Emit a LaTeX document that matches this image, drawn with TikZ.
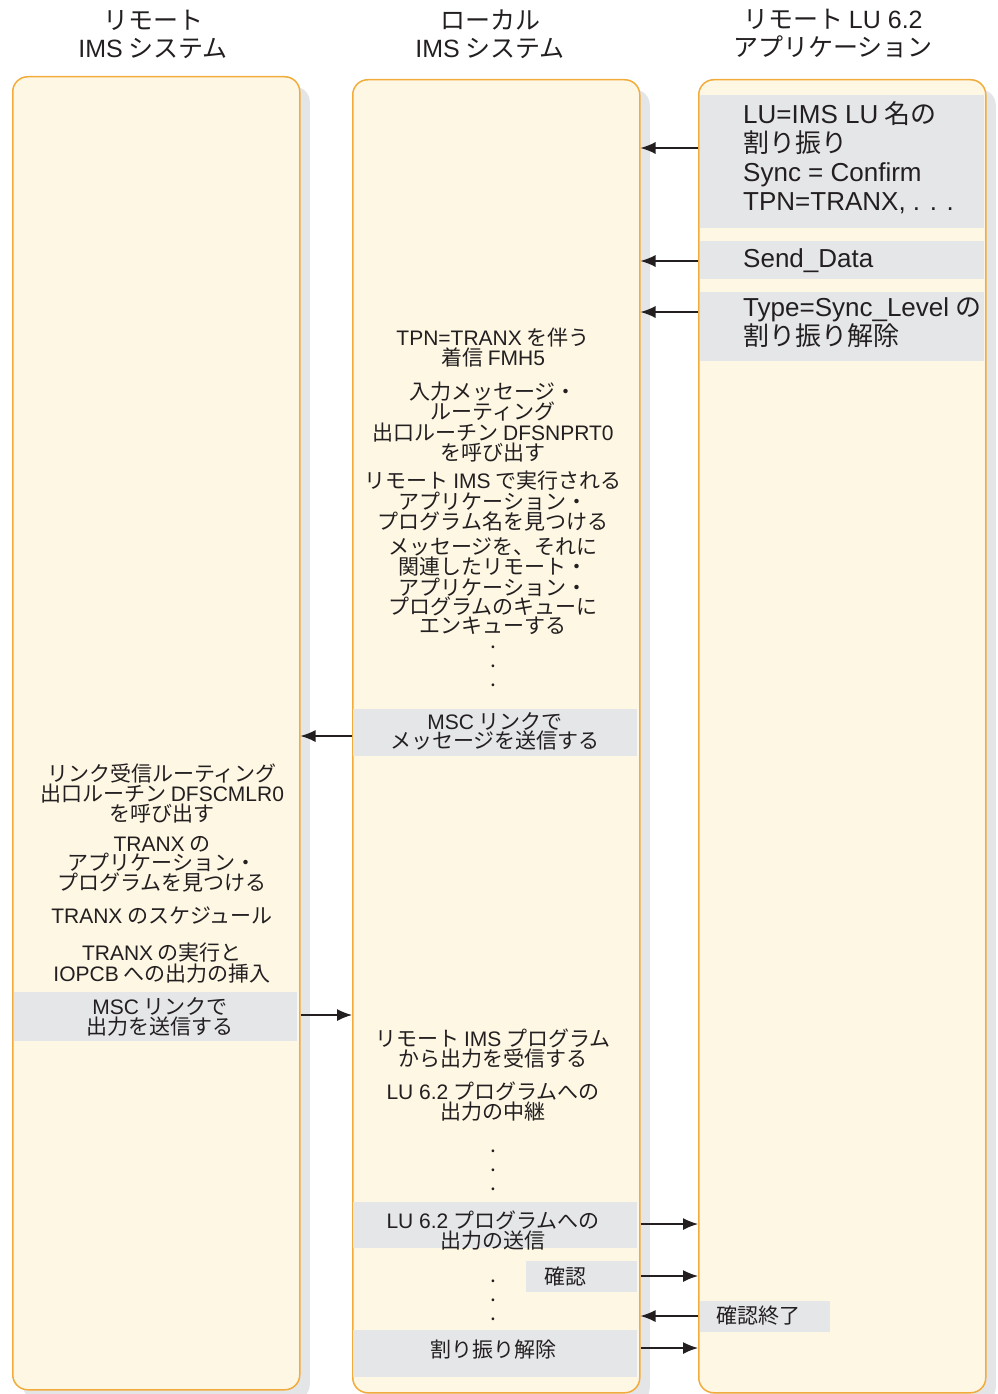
\documentclass[tikz,border=0pt]{standalone}
\usepackage{fontspec}
\setmainfont{Noto Sans CJK JP}
\newfontfamily\latinfont{Liberation Sans}
\newcommand\latn[1]{{\latinfont #1}}
\usetikzlibrary{arrows.meta,shadows}

\definecolor{boxfill}{HTML}{FDF7E4}
\definecolor{boxline}{HTML}{F2AC3C}
\definecolor{bandgray}{HTML}{E5E6E8}
\definecolor{shadowgray}{HTML}{E4E5E7}
\definecolor{txt}{HTML}{231F20}

\tikzset{
  col/.style={draw=boxline, fill=boxfill, line width=1.5pt, rounded corners=15pt,
    anchor=north west, inner sep=0pt, minimum width=287, minimum height=1313,
    drop shadow={shadow xshift=10pt, shadow yshift=-10pt, fill=shadowgray, opacity=1}},
  band/.style={fill=bandgray},
  head/.style={align=center, font=\fontsize{25}{28}\selectfont, text=txt, inner sep=0pt},
  msg/.style={align=center, font=\fontsize{21}{17.2}\selectfont, text=txt, inner sep=0pt},
  dots/.style={align=center, font=\fontsize{21}{19}\selectfont, text=txt, inner sep=0pt},
  note/.style={align=left, anchor=west, font=\fontsize{26}{29}\selectfont, text=txt, inner sep=0pt},
  arr/.style={-{Latex[length=15pt,width=12pt]}, line width=1.3pt, draw=txt},
}

\begin{document}
\begin{tikzpicture}[x=1pt, y=-1pt]
\useasboundingbox (0,0) rectangle (998,1394);

% titles
\node[head] (hrims) at (153,34) {リモート\\\latn{IMS} システム};
\node[head] (hlims) at (490,34) {ローカル\\\latn{IMS} システム};
\node[head] (hlu) at (833,34) {リモート \latn{LU 6.2}\\アプリケーション};

% columns
\node[col] (rims) at (12,76) {};
\node[col] (lims) at (352,79) {};
\node[col] (lu) at (698,79) {};

% grey bands
\fill[band] (700,95) rectangle (984,228);
\fill[band] (700,241) rectangle (984,279);
\fill[band] (700,292) rectangle (984,361);
\fill[band] (353,709) rectangle (637,756);
\fill[band] (14,992) rectangle (297,1041);
\fill[band] (353,1202) rectangle (637,1248);
\fill[band] (526,1261) rectangle (637,1292);
\fill[band] (700,1301) rectangle (830,1332);
\fill[band] (353,1330) rectangle (637,1377);

% remote LU 6.2 application
\node[note] (alloc) at (743,158) {\latn{LU=IMS LU} 名の\\割り振り\\\latn{Sync = Confirm}\\\latn{TPN=TRANX, . . .}};
\node[note] (send) at (743,261) {\latn{Send\_Data}};
\node[note] (dealloc) at (743,323) {\latn{Type=Sync\_Level} の\\割り振り解除};
\node[note, font=\fontsize{21}{17.2}\selectfont] (cdone) at (716,1316) {確認終了};

% local IMS
\node[msg] (fmh) at (493,347.5) {\latn{TPN=TRANX} を伴う\\着信 \latn{FMH5}};
\node[msg] (nprt) at (493,422) {入力メッセージ・\\ルーティング\\出口ルーチン \latn{DFSNPRT0}\\を呼び出す};
\node[msg] (find) at (493,501) {リモート \latn{IMS} で実行される\\アプリケーション・\\プログラム名を見つける};
\node[msg] (enq) at (493,586.5) {メッセージを、それに\\関連したリモート・\\アプリケーション・\\プログラムのキューに\\エンキューする};
\node[dots] (dotsa) at (493,666) {.\\.\\.};
\node[msg] (msca) at (495,731.5) {\latn{MSC} リンクで\\メッセージを送信する};
\node[msg] (recv) at (493,1048.5) {リモート \latn{IMS} プログラム\\から出力を受信する};
\node[msg] (relay) at (493,1101.5) {\latn{LU 6.2} プログラムへの\\出力の中継};
\node[dots] (dotsb) at (493,1170) {.\\.\\.};
\node[msg] (sendlu) at (493,1231) {\latn{LU 6.2} プログラムへの\\出力の送信};
\node[msg, anchor=west] (conf) at (544,1276) {確認};
\node[dots] (dotsc) at (493,1300) {.\\.\\.};
\node[msg] (free) at (493,1350) {割り振り解除};

% remote IMS
\node[msg] (cmlr) at (162,793.5) {リンク受信ルーティング\\出口ルーチン \latn{DFSCMLR0}\\を呼び出す};
\node[msg] (appl) at (162,864) {\latn{TRANX} の\\アプリケーション・\\プログラムを見つける};
\node[msg] (sched) at (162,916) {\latn{TRANX} のスケジュール};
\node[msg] (run) at (162,963) {\latn{TRANX} の実行と\\\latn{IOPCB} への出力の挿入};
\node[msg] (mscb) at (160,1017) {\latn{MSC} リンクで\\出力を送信する};

% flows
\draw[arr] (lu.west |- 0,148) -- (lims.east |- 0,148);
\draw[arr] (lu.west |- 0,261) -- (lims.east |- 0,261);
\draw[arr] (lu.west |- 0,312) -- (lims.east |- 0,312);
\draw[arr] (lims.west |- 0,736) -- (rims.east |- 0,736);
\draw[arr] (rims.east |- 0,1015) -- (lims.west |- 0,1015);
\draw[arr] (lims.east |- 0,1224) -- (lu.west |- 0,1224);
\draw[arr] (lims.east |- 0,1276) -- (lu.west |- 0,1276);
\draw[arr] (lu.west |- 0,1316) -- (lims.east |- 0,1316);
\draw[arr] (lims.east |- 0,1348) -- (lu.west |- 0,1348);

\end{tikzpicture}
\end{document}
